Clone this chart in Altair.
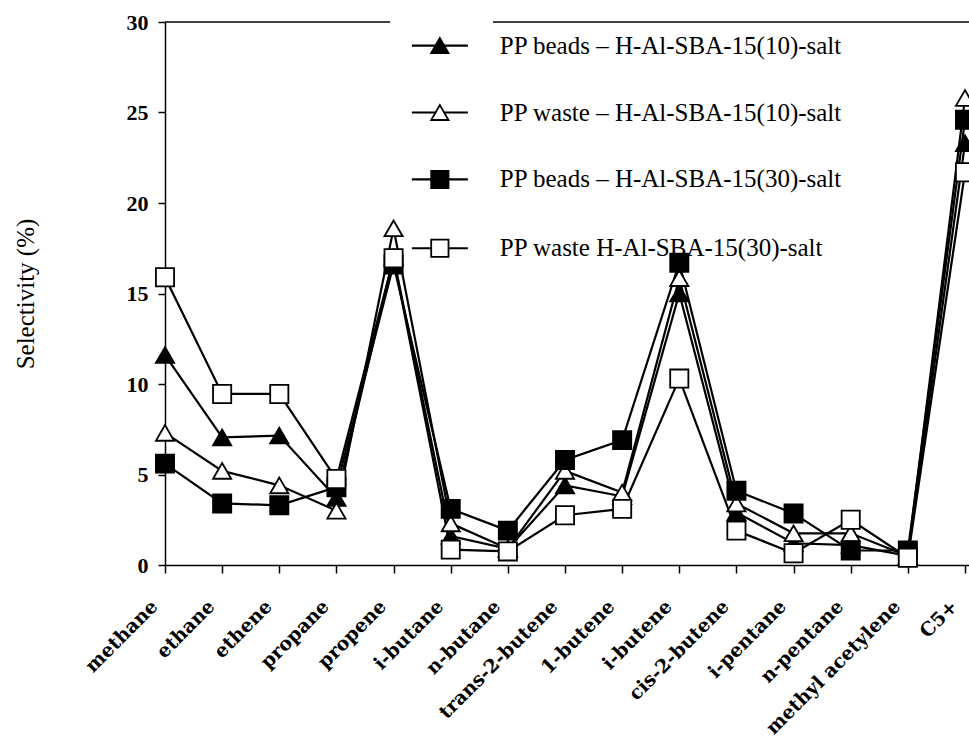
import json
import altair as alt
import pandas as pd

# Product categories along the x axis
categories = [
    "methane", "ethane", "ethene", "propane", "propene", "i-butane", "n-butane",
    "trans-2-butene", "1-butene", "i-butene", "cis-2-butene", "i-pentane",
    "n-pentane", "methyl acetylene", "C5+",
]

# Selectivity (%) of each product for the four catalyst/feed combinations
beads_10 = [11.6, 7.05, 7.15, 3.7, 17.0, 1.6, 0.9, 4.4, 3.8, 15.0, 2.9, 1.2, 1.1, 0.5, 23.3]
waste_10 = [7.3, 5.2, 4.4, 3.0, 18.6, 2.3, 0.9, 5.2, 4.0, 15.85, 3.4, 1.75, 1.75, 0.5, 25.8]
beads_30 = [5.6, 3.4, 3.3, 4.3, 16.6, 3.1, 1.9, 5.8, 6.9, 16.7, 4.1, 2.85, 0.8, 0.8, 24.6]
waste_30 = [15.9, 9.45, 9.45, 4.75, 16.95, 0.85, 0.75, 2.75, 3.1, 10.3, 1.9, 0.65, 2.5, 0.4, 21.7]

series_names = [
    "PP beads \u2013 H-Al-SBA-15(10)-salt",
    "PP waste \u2013 H-Al-SBA-15(10)-salt",
    "PP beads \u2013 H-Al-SBA-15(30)-salt",
    "PP waste H-Al-SBA-15(30)-salt",
]
series_values = [beads_10, waste_10, beads_30, waste_30]
series_shapes = ["triangle-up", "triangle-up", "square", "square"]
series_fills = ["black", "white", "black", "white"]

# Legend rows placed in data units inside the plot
legend_y = [28.7, 25.0, 21.3, 17.5]

rows = []
for order, (name, vals) in enumerate(zip(series_names, series_values)):
    for i, (cat, v) in enumerate(zip(categories, vals)):
        rows.append({"idx": i, "cat": cat, "series": name, "order": order, "value": v})
df = pd.DataFrame(rows)

legend_df = pd.DataFrame({
    "series": series_names,
    "order": list(range(4)),
    "ly": legend_y,
    "x1": [4.32] * 4,
    "x2": [5.30] * 4,
    "xm": [4.81] * 4,
    "xt": [5.86] * 4,
})

# Top frame line, interrupted where the legend sits
frame_df = pd.DataFrame({"x1": [0.0, 5.74], "x2": [3.94, 14.07], "y": [30, 30]})

x_max = 14.07
label_expr = json.dumps(categories) + "[datum.value]"

x_scale = alt.Scale(domain=[0, x_max], nice=False, zero=False)
y_scale = alt.Scale(domain=[0, 30], nice=False)
shape_scale = alt.Scale(domain=series_names, range=series_shapes)
fill_scale = alt.Scale(domain=series_names, range=series_fills)

x_enc = alt.X(
    "idx:Q", scale=x_scale,
    axis=alt.Axis(
        values=list(range(len(categories))), labelExpr=label_expr,
        labelAngle=-45, labelAlign="right", labelBaseline="middle",
        labelFont="DejaVu Serif", labelFontWeight="bold", labelFontSize=19,
        labelColor="black", labelPadding=30, labelOffset=-11, labelLimit=400,
        tickSize=8, tickColor="black", domainColor="black", domainWidth=1.5,
        tickWidth=1.5, grid=False, title=None, labelOverlap=False,
        labelBound=False, labelFlush=False,
    ),
)
y_enc = alt.Y(
    "value:Q", scale=y_scale,
    axis=alt.Axis(
        values=[0, 5, 10, 15, 20, 25, 30], title="Selectivity (%)",
        titleFont="Liberation Serif", titleFontSize=25, titleFontWeight="normal",
        titleColor="black", titlePadding=88,
        labelFont="Liberation Serif", labelFontWeight="bold", labelFontSize=22,
        labelColor="black", labelPadding=10, tickSize=7, tickColor="black",
        domainColor="black", domainWidth=1.5, tickWidth=1.5, grid=False,
    ),
)

lines = alt.Chart(df).mark_line(color="black", strokeWidth=2.2).encode(
    x=x_enc, y=y_enc, detail="series:N", order="idx:Q",
)

points = alt.Chart(df).mark_point(
    size=330, filled=True, stroke="black", strokeWidth=1.8, opacity=1,
).encode(
    x=alt.X("idx:Q", scale=x_scale),
    y=alt.Y("value:Q", scale=y_scale),
    shape=alt.Shape("series:N", scale=shape_scale, legend=None),
    fill=alt.Fill("series:N", scale=fill_scale, legend=None),
    order=alt.Order("order:Q"),
)

frame = alt.Chart(frame_df).mark_rule(color="black", strokeWidth=1.5).encode(
    x=alt.X("x1:Q", scale=x_scale), x2="x2:Q",
    y=alt.Y("y:Q", scale=y_scale),
)

leg_lines = alt.Chart(legend_df).mark_rule(color="black", strokeWidth=2.2).encode(
    x=alt.X("x1:Q", scale=x_scale), x2="x2:Q",
    y=alt.Y("ly:Q", scale=y_scale),
)
leg_points = alt.Chart(legend_df).mark_point(
    size=300, filled=True, stroke="black", strokeWidth=1.8, opacity=1,
).encode(
    x=alt.X("xm:Q", scale=x_scale),
    y=alt.Y("ly:Q", scale=y_scale),
    shape=alt.Shape("series:N", scale=shape_scale, legend=None),
    fill=alt.Fill("series:N", scale=fill_scale, legend=None),
)
leg_text = alt.Chart(legend_df).mark_text(
    align="left", baseline="middle", font="Liberation Serif", fontSize=25, color="black",
).encode(
    x=alt.X("xt:Q", scale=x_scale),
    y=alt.Y("ly:Q", scale=y_scale),
    text="series:N",
)

chart = alt.layer(frame, lines, points, leg_lines, leg_points, leg_text).properties(
    width=804, height=543,
    autosize=alt.AutoSizeParams(type="none"),
    padding={"left": 165, "top": 22, "right": 0, "bottom": 177},
    background="white",
).configure_view(stroke=None).resolve_scale(shape="shared", fill="shared")

chart.save("out.html", embed_options={"renderer": "svg", "actions": False})
